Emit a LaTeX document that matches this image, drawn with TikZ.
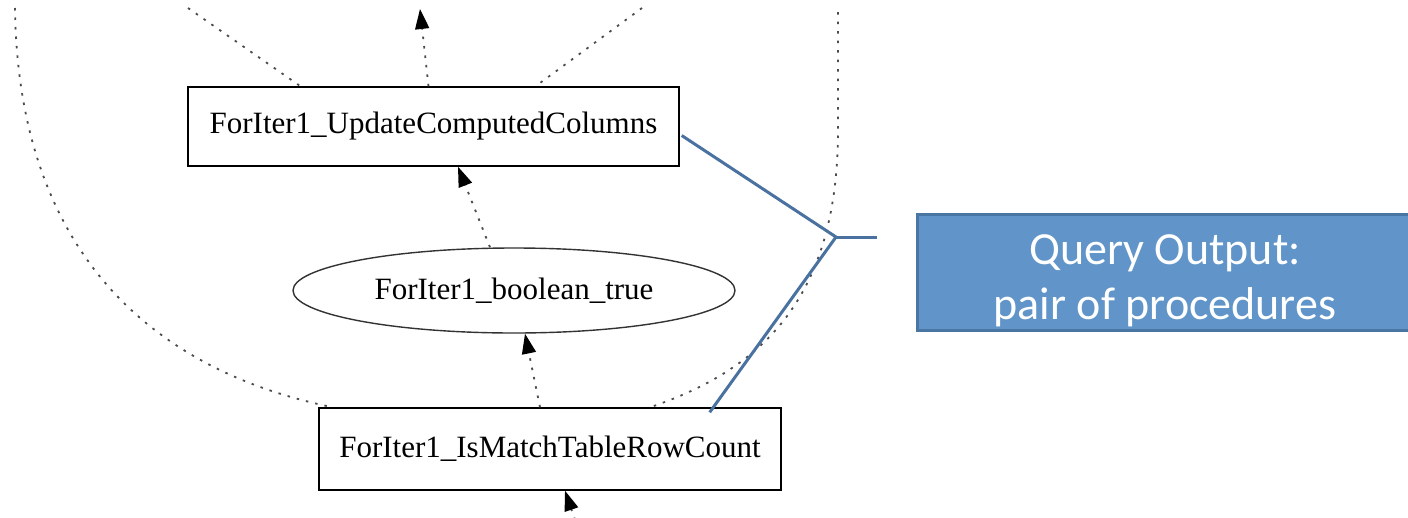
\documentclass[tikz,border=0pt]{standalone}
\usepackage{fontspec}
\setmainfont{Liberation Serif}
\newfontfamily\calib{Carlito}
\usetikzlibrary{arrows.meta,shapes.geometric}
\definecolor{qfill}{HTML}{6195C9}
\definecolor{qedge}{HTML}{4A76A3}
\definecolor{bline}{HTML}{4A72A0}
\begin{document}
\begin{tikzpicture}[x=1pt,y=-1pt,
  procbox/.style={draw=black,line width=1.4pt,rectangle,inner sep=0pt,font=\fontsize{31}{36}\selectfont},
  procell/.style={draw=black!80,line width=1.4pt,ellipse,inner sep=0pt,font=\fontsize{31}{36}\selectfont},
  dotline/.style={draw=black!70,line width=1.8pt,dash pattern=on 2.5pt off 7pt},
  dotarrow/.style={dotline,-{Triangle[length=20pt,width=14pt,fill=black,color=black]}},
  qbox/.style={draw=qedge,fill=qfill,line width=3pt,rectangle,inner sep=0pt},
  qtext/.style={text=white,align=center,inner sep=0pt,font=\calib\fontsize{46}{55}\selectfont},
  bracket/.style={draw=bline,line width=3pt}]
\clip (0,0) rectangle (1408,517);
\fill[white] (0,0) rectangle (1408,517);

% nodes
\node[procbox,minimum width=491pt,minimum height=79pt] (b1) at (433.5,126.5) {ForIter1\_UpdateComputedColumns};
\node[procell,minimum width=442pt,minimum height=85pt] (e1) at (514,290.5) {ForIter1\_boolean\_true};
\node[procbox,minimum width=462pt,minimum height=82pt] (b2) at (550,449) {ForIter1\_IsMatchTableRowCount};
\node[qbox,minimum width=496pt,minimum height=116pt] (q) at (1165,272) {};
\node[qtext] (qt) at (1165,281) {Query Output:\\pair of procedures};

% free ends
\coordinate (top) at (420,9);
\coordinate (bot) at (575,520);
\coordinate (tl) at (188,8);
\coordinate (tr) at (642,8);
\coordinate (lft) at (15,8);
\coordinate (rgt) at (838,12);
\coordinate (fork) at (836,237);
\coordinate (forkend) at (877,237);

% arrows
\draw[dotarrow] ([xshift=-5pt]b1.north) -- (top);
\draw[dotarrow] ([xshift=-24pt]e1.north) -- ([xshift=24.5pt]b1.south);
\draw[dotarrow] ([xshift=-10pt]b2.north) -- ([xshift=11pt]e1.south);
\draw[dotarrow] (bot) -- ([xshift=15pt]b2.south);

% dotted edges
\draw[dotline] (tl) -- ([xshift=-133pt]b1.north);
\draw[dotline] (tr) -- ([xshift=102pt]b1.north);
\draw[dotline] (lft) .. controls (18,250) and (150,370) .. ([xshift=-217pt]b2.north);
\draw[dotline] (rgt) -- (838,130) .. controls (838,300) and (760,370) .. ([xshift=100pt]b2.north);

% bracket
\draw[bracket] ([xshift=2pt,yshift=-9pt]b1.east) -- (fork) -- ([xshift=-72pt,yshift=-5pt]b2.north east);
\draw[bracket] (fork) -- (forkend);
\end{tikzpicture}
\end{document}
